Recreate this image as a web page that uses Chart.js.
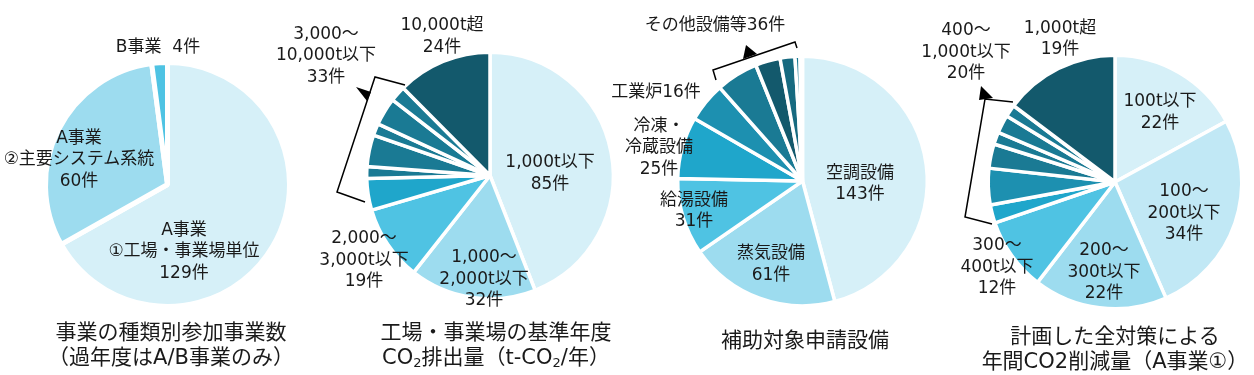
<!DOCTYPE html>
<html><head><meta charset="utf-8">
<script src="https://cdn.jsdelivr.net/npm/chart.js@4/dist/chart.umd.min.js"></script>
<style>
html,body{margin:0;padding:0;background:#fff;width:1254px;height:375px;overflow:hidden;position:relative}
canvas{position:absolute;left:0;top:0}
.t{position:absolute;transform:translate(-50%,-50%);text-align:center;white-space:nowrap;font-family:"DejaVu Sans","Noto Sans CJK JP",sans-serif;font-size:17px;line-height:21.5px;color:#1a1a1a}
.ttl{font-size:21px;line-height:25px}
.ttl sub{font-size:13px;vertical-align:-3px;line-height:0}
</style></head><body>
<canvas id="c1" width="1254" height="375"></canvas>
<canvas id="c2" width="1254" height="375"></canvas>
<canvas id="c3" width="1254" height="375"></canvas>
<canvas id="c4" width="1254" height="375"></canvas>
<div id="txt"></div>
<script>
// ---- Data ----
// Chart 1: 事業の種類別参加事業数
const typeCategories = ['A事業 ①工場・事業場単位', 'A事業 ②主要システム系統', 'B事業'];
const typeCounts = [129, 60, 4];

// Chart 2: 工場・事業場の基準年度CO2排出量
const emissionCategories = ['1,000t以下', '1,000～2,000t以下', '2,000～3,000t以下',
  '3,000～10,000t以下 a', '3,000～10,000t以下 b', '3,000～10,000t以下 c',
  '3,000～10,000t以下 d', '3,000～10,000t以下 e', '3,000～10,000t以下 f', '10,000t超'];
const emissionCounts = [85, 32, 19, 8, 3, 8, 3, 7, 4, 24];

// Chart 3: 補助対象申請設備
const equipCategories = ['空調設備', '蒸気設備', '給湯設備', '冷凍・冷蔵設備', '工業炉',
  'その他設備等 a', 'その他設備等 b', 'その他設備等 c', 'その他設備等 d', 'その他設備等 e'];
const equipCounts = [143, 61, 31, 25, 16, 17, 10, 6, 2, 1];

// Chart 4: 計画した全対策による年間CO2削減量（A事業①）
const reductionCategories = ['100t以下', '100～200t以下', '200～300t以下', '300～400t以下',
  '400～1,000t以下 a', '400～1,000t以下 b', '400～1,000t以下 c', '400～1,000t以下 d',
  '400～1,000t以下 e', '400～1,000t以下 f', '1,000t超'];
const reductionCounts = [22, 34, 22, 12, 3, 6, 4, 2, 3, 2, 19];

const sum = (a, i, j) => a.slice(i, j).reduce((s, v) => s + v, 0);

// ---- Styles ----
const C = {
  c0: '#d6f0f8', c0b: '#c1e8f5', c1: '#9ddcef', c2: '#4fc3e3', c3: '#1fa6cb',
  c4: '#1d90b0', c5: '#1a7a94', c6: '#166a80', c7: '#13596c'
};
const colors1 = [C.c0, C.c1, C.c2];
const colors2 = [C.c0, C.c1, C.c2, C.c3, C.c5, C.c5, C.c5, C.c5, C.c5, C.c7];
const colors3 = [C.c0, C.c1, C.c2, C.c3, C.c4, C.c5, C.c7, C.c6, C.c5, C.c7];
const colors4 = [C.c0, C.c0b, C.c1, C.c2, C.c3, C.c4, C.c5, C.c5, C.c5, C.c5, C.c7];

function bracket(id, lines, tri) {
  return {
    id: id,
    afterDraw(chart) {
      const ctx = chart.ctx;
      ctx.save();
      ctx.strokeStyle = '#000'; ctx.lineWidth = 1.5; ctx.lineJoin = 'miter';
      ctx.beginPath();
      lines.forEach((p, i) => i ? ctx.lineTo(p[0], p[1]) : ctx.moveTo(p[0], p[1]));
      ctx.stroke();
      ctx.fillStyle = '#000';
      ctx.beginPath();
      tri.forEach((p, i) => i ? ctx.lineTo(p[0], p[1]) : ctx.moveTo(p[0], p[1]));
      ctx.closePath(); ctx.fill();
      ctx.restore();
    }
  };
}

function makePie(id, labels, values, colors, cx, cy, r, bw, plugins) {
  const W = 1254, H = 375;
  const pad = cx < W / 2 ? {left: 0, right: W - 2 * cx} : {left: 2 * cx - W, right: 0};
  pad.top = 0; pad.bottom = H - 2 * cy;
  return new Chart(document.getElementById(id), {
    type: 'pie',
    data: {labels: labels, datasets: [{data: values, backgroundColor: colors, borderColor: '#ffffff', borderWidth: bw}]},
    options: {
      responsive: false, animation: false, events: [], radius: r,
      layout: {padding: pad},
      plugins: {legend: {display: false}, tooltip: {enabled: false}}
    },
    plugins: plugins || []
  });
}

makePie('c1', typeCategories, typeCounts, colors1, 167.5, 184.5, 122, 5);
makePie('c2', emissionCategories, emissionCounts, colors2, 490, 175.5, 123.3, 3.5,
  [bracket('b2', [[405, 85], [375, 77], [337, 192], [365, 202]], [[356, 87], [371, 92], [367, 101]])]);
makePie('c3', equipCategories, equipCounts, colors3, 802.5, 181, 124.8, 3.5,
  [bracket('b3', [[716, 80], [713, 70], [795, 42], [797, 48]], [[746, 45], [743, 59], [757, 54]])]);
makePie('c4', reductionCategories, reductionCounts, colors4, 1115, 182, 126.8, 3.5,
  [bracket('b4', [[1013, 102], [985, 99], [965, 217], [992, 224]], [[981, 86], [979, 100], [993, 98]])]);

// ---- Text (layout) ----
const texts = [
  // chart 1
  {x: 158, y: 47, html: 'B事業&nbsp;&nbsp;' + typeCounts[2] + '件'},
  {x: 79, y: 158.5, html: 'A事業<br>②主要システム系統<br>' + typeCounts[1] + '件'},
  {x: 184, y: 250.5, html: 'A事業<br>①工場・事業場単位<br>' + typeCounts[0] + '件'},
  {x: 171, y: 345, cls: 'ttl', html: '事業の種類別参加事業数<br>（過年度はA/B事業のみ）'},
  // chart 2
  {x: 442, y: 35, html: '10,000t超<br>' + emissionCounts[9] + '件'},
  {x: 326, y: 54.5, html: '3,000～<br>10,000t以下<br>' + sum(emissionCounts, 3, 9) + '件'},
  {x: 550, y: 172, html: '1,000t以下<br>' + emissionCounts[0] + '件'},
  {x: 484, y: 278, html: '1,000～<br>2,000t以下<br>' + emissionCounts[1] + '件'},
  {x: 364, y: 259, html: '2,000～<br>3,000t以下<br>' + emissionCounts[2] + '件'},
  {x: 496, y: 344.5, cls: 'ttl', html: '工場・事業場の基準年度<br>CO<sub>2</sub>排出量（t-CO<sub>2</sub>/年）'},
  // chart 3
  {x: 715, y: 25, html: 'その他設備等' + sum(equipCounts, 5, 10) + '件'},
  {x: 656, y: 92, html: '工業炉' + equipCounts[4] + '件'},
  {x: 659, y: 146.5, html: '冷凍・<br>冷蔵設備<br>' + equipCounts[3] + '件'},
  {x: 694, y: 209.5, html: '給湯設備<br>' + equipCounts[2] + '件'},
  {x: 771, y: 263, html: '蒸気設備<br>' + equipCounts[1] + '件'},
  {x: 860, y: 182.5, html: '空調設備<br>' + equipCounts[0] + '件'},
  {x: 805, y: 340, cls: 'ttl', html: '補助対象申請設備'},
  // chart 4
  {x: 1060, y: 37.5, html: '1,000t超<br>' + reductionCounts[10] + '件'},
  {x: 966, y: 51, html: '400～<br>1,000t以下<br>' + sum(reductionCounts, 4, 10) + '件'},
  {x: 1160, y: 111, html: '100t以下<br>' + reductionCounts[0] + '件'},
  {x: 1184, y: 212, html: '100～<br>200t以下<br>' + reductionCounts[1] + '件'},
  {x: 1104, y: 271, html: '200～<br>300t以下<br>' + reductionCounts[2] + '件'},
  {x: 997, y: 266, html: '300～<br>400t以下<br>' + reductionCounts[3] + '件'},
  {x: 1115, y: 349, cls: 'ttl', html: '計画した全対策による<br>年間CO2削減量（A事業①）'}
];
const box = document.getElementById('txt');
texts.forEach(t => {
  const d = document.createElement('div');
  d.className = 't' + (t.cls ? ' ' + t.cls : '');
  d.style.left = t.x + 'px';
  d.style.top = t.y + 'px';
  d.innerHTML = t.html;
  box.appendChild(d);
});
</script>
</body></html>
